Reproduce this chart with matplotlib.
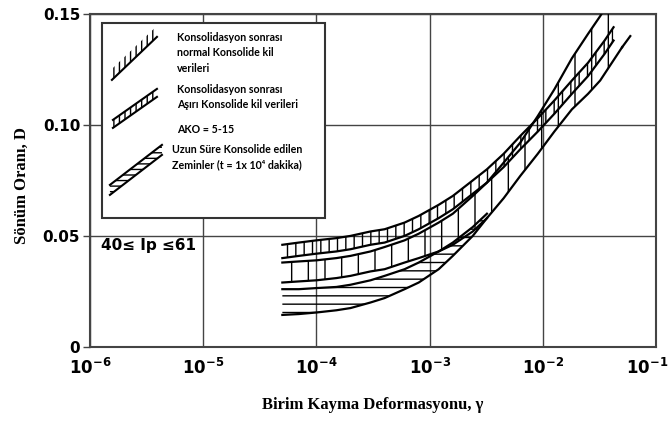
import numpy as np
import matplotlib
matplotlib.use("Agg")
import matplotlib.pyplot as plt
import matplotlib.transforms as mtransforms
from matplotlib.patches import Rectangle, Polygon

plt.rcParams['mathtext.fontset'] = 'dejavusans'
plt.rcParams['hatch.linewidth'] = 1.0

# shear strain grid (log spaced)
strain = [5e-5, 7e-5, 1e-4, 1.5e-4, 2e-4, 3e-4, 4e-4, 6e-4, 8e-4, 1.2e-3, 1.6e-3,
          2.4e-3, 3.2e-3, 4.5e-3, 6.3e-3, 9e-3, 1.26e-2, 1.8e-2, 2.5e-2, 3.5e-2, 4.2e-2]

# over-consolidated clay band (AKO = 5-15)
oc_top = [0.046, 0.047, 0.048, 0.049, 0.050, 0.052, 0.053, 0.056, 0.059, 0.064, 0.068,
          0.075, 0.080, 0.087, 0.095, 0.103, 0.111, 0.120, 0.128, 0.138, 0.144]
oc_bottom = [0.040, 0.041, 0.042, 0.043, 0.044, 0.046, 0.047, 0.050, 0.053, 0.058, 0.062,
             0.069, 0.074, 0.081, 0.089, 0.097, 0.105, 0.114, 0.122, 0.132, 0.138]

# normally consolidated clay band
strain_nc = [5e-5, 7e-5, 1e-4, 1.5e-4, 2e-4, 3e-4, 4e-4, 6e-4, 8e-4, 1.2e-3, 1.6e-3,
             2.4e-3, 3.2e-3, 4.5e-3, 6.3e-3, 9e-3, 1.26e-2, 1.8e-2, 2.5e-2, 3.2e-2, 5e-2]
nc_top = [0.038, 0.0385, 0.039, 0.040, 0.041, 0.043, 0.045, 0.048, 0.051, 0.056, 0.060,
          0.068, 0.074, 0.083, 0.092, 0.104, 0.116, 0.130, 0.141, 0.149, 0.165]
nc_bottom = [0.029, 0.0295, 0.030, 0.031, 0.032, 0.034, 0.035, 0.038, 0.040, 0.043, 0.046,
             0.052, 0.058, 0.067, 0.077, 0.087, 0.097, 0.107, 0.114, 0.120, 0.135]

# long-term consolidated soils (t = 1x10^4 min)
strain_lt = [5e-5, 7e-5, 1e-4, 1.5e-4, 2e-4, 3e-4, 4e-4, 6e-4, 8e-4, 1.2e-3, 1.6e-3,
             2.4e-3, 3.2e-3]
lt_top = [0.026, 0.026, 0.0265, 0.027, 0.028, 0.030, 0.032, 0.035, 0.038, 0.043, 0.047,
          0.054, 0.060]
lt_bottom = [0.0144, 0.0148, 0.0155, 0.0165, 0.0175, 0.020, 0.022, 0.026, 0.029, 0.035,
             0.041, 0.050, 0.058]

# lowest curve tail beyond the hatched bands
strain_tail = [5e-2, 5.9e-2]
d_tail = [0.135, 0.140]

xticks = [1e-6, 1e-5, 1e-4, 1e-3, 1e-2, 1e-1]
xticklabels = [r'$\mathbf{10^{-6}}$', r'$\mathbf{10^{-5}}$', r'$\mathbf{10^{-4}}$',
               r'$\mathbf{10^{-3}}$', r'$\mathbf{10^{-2}}$', r'$\mathbf{10^{-1}}$']
yticks = [0, 0.05, 0.10, 0.15]
yticklabels = ['0', '0.05', '0.10', '0.15']

legend_lines = [
    "Konsolidasyon sonrası\nnormal Konsolide kil\nverileri",
    "Konsolidasyon sonrası\nAşırı Konsolide kil verileri",
    "AKO = 5-15",
    "Uzun Süre Konsolide edilen\nZeminler (t = 1x 10⁴ dakika)",
]

fig = plt.figure(figsize=(6.71, 4.21), dpi=100)
ax = fig.add_axes([0.134, 0.176, 0.844, 0.791])
ax.set_xscale('log')
ax.set_xlim(1e-6, 1e-1)
ax.set_ylim(0, 0.15)

ax.set_xticks(xticks)
ax.set_xticklabels(xticklabels, fontsize=12)
ax.minorticks_off()
ax.set_yticks(yticks)
ax.set_yticklabels(yticklabels, fontsize=11, fontweight='bold')
ax.tick_params(axis='x', length=0, pad=8)
ax.tick_params(axis='y', length=5, width=1, color='#444444', pad=2)
ax.grid(True, color='#444444', linewidth=1.0)
for s in ax.spines.values():
    s.set_color('#444444')
    s.set_linewidth(1.5)

# keep the last decade label inside the figure
last = ax.get_xticklabels()[-1]
last.set_transform(last.get_transform() +
                   mtransforms.ScaledTranslation(-9 / 100, 0, fig.dpi_scale_trans))

# hatched bands
ax.fill_between(strain_lt, lt_bottom, lt_top, facecolor='none', edgecolor='black',
                hatch='--', linewidth=0, zorder=3)
ax.fill_between(strain_nc, nc_bottom, nc_top, facecolor='none', edgecolor='black',
                hatch='|', linewidth=0, zorder=3)
ax.fill_between(strain, oc_bottom, oc_top, facecolor='none', edgecolor='black',
                hatch='||', linewidth=0, zorder=3)

for xs, ys in [(strain, oc_top), (strain, oc_bottom), (strain_nc, nc_top),
               (strain_nc, nc_bottom), (strain_lt, lt_top), (strain_lt, lt_bottom),
               (strain_tail, d_tail)]:
    ax.plot(xs, ys, color='black', linewidth=1.6, zorder=4)
ax.plot([strain_nc[-1], strain_tail[0]], [nc_bottom[-1], d_tail[0]], color='black',
        linewidth=1.6, zorder=4)

# legend box, drawn in pixel-like axes coordinates
def ac(px, py):
    return ((px - 90) / 566, (347 - py) / 333)

x0, y0 = ac(102, 218)
x1, y1 = ac(325, 23)
ax.add_patch(Rectangle((x0, y0), x1 - x0, y1 - y0, transform=ax.transAxes,
                       facecolor='white', edgecolor='#333333', linewidth=1.5, zorder=5))

def symbol(p_start, p_end, offset, hatch, both=True):
    a, b = ac(*p_start), ac(*p_end)
    c, d = ac(p_end[0], p_end[1] - offset), ac(p_start[0], p_start[1] - offset)
    ax.add_patch(Polygon([a, b, c, d], closed=True, transform=ax.transAxes,
                         facecolor='none', edgecolor='black', hatch=hatch,
                         linewidth=0, zorder=6))
    ax.plot([a[0], b[0]], [a[1], b[1]], transform=ax.transAxes, color='black',
            linewidth=1.5, zorder=7)
    if both:
        ax.plot([c[0], d[0]], [c[1], d[1]], transform=ax.transAxes, color='black',
                linewidth=1.5, zorder=7)

symbol((112, 80), (157, 37), 11, '|||', both=False)
symbol((113, 128), (157, 97), 8, '|||')
symbol((110, 195), (162, 155), 10, '---')

legend_font = dict(family='Lato', fontweight='bold', fontsize=7.7, color='black',
                   transform=ax.transAxes, zorder=8, va='top', ha='left',
                   linespacing=1.5)
ax.text(*ac(177, 32), legend_lines[0], **legend_font)
ax.text(*ac(177, 84), legend_lines[1], **legend_font)
ax.text(*ac(177, 124), legend_lines[2], **legend_font)
ax.text(*ac(172, 144), legend_lines[3], **legend_font)

ax.text(10 ** -5.48, 0.0455, '40≤ Ip ≤61', fontsize=11, fontweight='bold',
        ha='center', va='center', zorder=5)

fig.text(373 / 671, 1 - 405 / 421, 'Birim Kayma Deformasyonu, γ', family='Liberation Serif',
         fontweight='bold', fontsize=12, ha='center', va='center')
fig.text(22 / 671, 1 - 185 / 421, 'Sönüm Oranı, D', family='Liberation Serif',
         fontweight='bold', fontsize=12, ha='center', va='center', rotation=90)

fig.savefig('out.png', dpi=100)
